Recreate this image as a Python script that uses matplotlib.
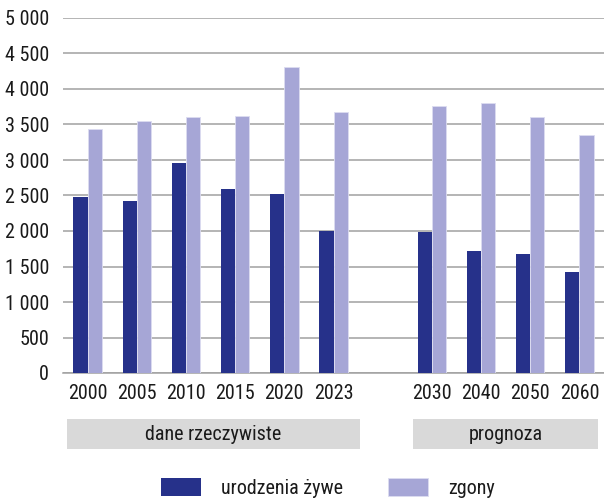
import matplotlib.pyplot as plt
from matplotlib.patches import Rectangle
from matplotlib import font_manager
import numpy as np

# data
years_real = ["2000", "2005", "2010", "2015", "2020", "2023"]
years_prog = ["2030", "2040", "2050", "2060"]
births = [2480, 2427, 2958, 2592, 2517, 2000, 1990, 1718, 1676, 1418]
deaths = [3441, 3549, 3601, 3624, 4310, 3672, 3760, 3803, 3606, 3352]
y_ticks = [0, 500, 1000, 1500, 2000, 2500, 3000, 3500, 4000, 4500, 5000]

dark = "#26318a"
light = "#a6a6d6"

# narrow font if there is one
names = {f.name for f in font_manager.fontManager.ttflist}
if "Roboto Condensed" in names:
    plt.rcParams['font.family'] = ['Roboto Condensed', 'DejaVu Sans']
    fs = 14.5
else:
    plt.rcParams['font.family'] = ['DejaVu Sans']
    fs = 11.5

labels = years_real + years_prog
# one empty slot between real data and forecast
x = np.array(list(range(len(years_real))) + list(range(len(years_real) + 1, len(labels) + 1)))

fig = plt.figure(figsize=(6.04, 5.0), dpi=100)
ax = fig.add_axes([63 / 604, 1 - 373 / 500, 541 / 604, 355 / 500])

w = 0.29
ax.bar(x - w / 2, births, w, color=dark, label="urodzenia żywe", zorder=3)
ax.bar(x + w / 2, deaths, w, color=light, edgecolor="#dcdcf0", linewidth=0.6,
       label="zgony", zorder=3)

ax.set_xlim(-0.5, 10.5)
ax.set_ylim(0, 5000)
ax.set_yticks(y_ticks)
ax.set_yticklabels([f"{v:,}".replace(",", " ") for v in y_ticks], fontsize=fs, color="#1a1a1a")
ax.set_xticks(x)
ax.set_xticklabels(labels, fontsize=fs, color="#1a1a1a")
ax.tick_params(length=0, pad=8)
ax.tick_params(axis='y', pad=10)
ax.grid(axis='y', color="#a0a0a0", linewidth=1.1, zorder=0)
for s in ["top", "right", "left"]:
    ax.spines[s].set_visible(False)
ax.spines["bottom"].set_color("#a0a0a0")
ax.spines["bottom"].set_linewidth(1.1)

# group boxes under the ticks
boxes = [(67, 360, "dane rzeczywiste"), (413, 598, "prognoza")]
for x0, x1, txt in boxes:
    fig.patches.append(Rectangle((x0 / 604, 1 - 449 / 500), (x1 - x0) / 604, 30 / 500,
                                 transform=fig.transFigure, facecolor="#d9d9d9",
                                 edgecolor="none"))
    fig.text((x0 + x1) / 2 / 604, 1 - 434 / 500, txt, ha="center", va="center",
             fontsize=fs, color="#1a1a1a")

fig.legend(loc="center", bbox_to_anchor=(0.543, 1 - 488 / 500), ncol=2, frameon=False,
           fontsize=fs, handlelength=2.0, handleheight=1.0, columnspacing=2.2,
           handletextpad=1.0, labelcolor="#1a1a1a")

fig.savefig("out.png", dpi=100)
